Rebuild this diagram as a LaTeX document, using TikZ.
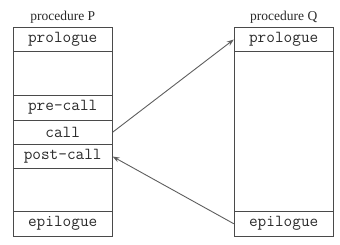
\documentclass[tikz,border=0pt]{standalone}
\usepackage{fontspec}
\setmainfont{Liberation Serif}
\usetikzlibrary{arrows.meta}
\definecolor{edge}{HTML}{4A4A4A}
\definecolor{link}{HTML}{5E5E5E}
\definecolor{ink}{HTML}{2A2A2A}
\begin{document}
\begin{tikzpicture}[x=1pt,y=-1pt,
  row/.style={draw=edge, line width=0.8pt, minimum width=99pt, inner sep=0pt,
    text=ink, font=\fontsize{16.8}{18}\ttfamily},
  title/.style={anchor=base, text=ink, font=\fontsize{13.5}{15}\selectfont, inner sep=0pt},
  callarrow/.style={draw=link, line width=0.9pt, -{Stealth[length=7pt,width=5pt]}}]
  \useasboundingbox (0,0) rectangle (340,245);
  % procedure P
  \node[title] (ptitle) at (62.7,21) {procedure P};
  \node[row, minimum height=24.4pt] (ppro)  at (62.7,39.5)   {prologue};
  \node[row, minimum height=43.3pt] (pe1)   at (62.7,73.35)  {};
  \node[row, minimum height=25pt]   (ppre)  at (62.7,107.5)  {pre-call};
  \node[row, minimum height=24.5pt] (pcall) at (62.7,132.25) {call};
  \node[row, minimum height=24pt]   (ppost) at (62.7,156.5)  {post-call};
  \node[row, minimum height=43pt]   (pe2)   at (62.7,190)    {};
  \node[row, minimum height=24.5pt] (pepi)  at (62.7,223.75) {epilogue};
  % procedure Q
  \node[title] (qtitle) at (283.7,21) {procedure Q};
  \node[row, minimum height=24.4pt] (qpro)  at (283.7,39.5)   {prologue};
  \node[row, minimum height=159.8pt] (qbody) at (283.7,131.6) {};
  \node[row, minimum height=24.5pt] (qepi)  at (283.7,223.75) {epilogue};
  % call and return
  \draw[callarrow] (pcall.east) -- (qpro.west);
  \draw[callarrow] (qepi.west) -- (ppost.east);
\end{tikzpicture}
\end{document}
